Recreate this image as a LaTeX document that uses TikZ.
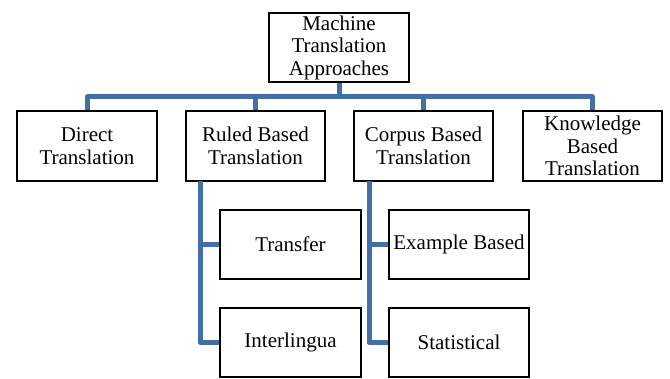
\documentclass[tikz,border=0pt]{standalone}
\usepackage{fontspec}
\setmainfont{Liberation Serif}
\definecolor{conncol}{RGB}{66,111,166}
\begin{document}
\begin{tikzpicture}[x=1pt,y=-1pt,
  box/.style={draw=black,line width=2pt,fill=white,inner sep=0pt,align=center,
    font=\fontsize{21}{22.5}\selectfont},
  conn/.style={draw=conncol,line width=5pt,line join=round}]
\useasboundingbox (0,0) rectangle (670,379);
\node[box,minimum width=140pt,minimum height=69pt] (root) at (339,47.5) {Machine\\Translation\\Approaches};
\node[box,minimum width=140pt,minimum height=70pt] (direct) at (87,146) {Direct\\Translation};
\node[box,minimum width=139pt,minimum height=70pt] (ruled) at (255.5,146) {Ruled Based\\Translation};
\node[box,minimum width=139pt,minimum height=70pt] (corpus) at (423.5,146) {Corpus Based\\Translation};
\node[box,minimum width=139pt,minimum height=70pt] (know) at (592.5,146) {Knowledge\\Based\\Translation};
\node[box,minimum width=141pt,minimum height=69pt] (transfer) at (290.5,244.5) {Transfer};
\node[box,minimum width=141pt,minimum height=69pt] (inter) at (290.5,342.5) {Interlingua};
\node[box,minimum width=140pt,minimum height=69pt] (example) at (459,244.5) {Example Based};
\node[box,minimum width=140pt,minimum height=69pt] (stat) at (459,342.5) {Statistical};
\coordinate (bus) at (339,97);
\coordinate (rv) at (200,181);
\coordinate (cv) at (369,181);
\draw[conn] (root.south) -- (bus);
\draw[conn] (direct.north) |- (bus) -| (know.north);
\draw[conn] (ruled.north) -- (ruled.north |- bus);
\draw[conn] (corpus.north) -- (corpus.north |- bus);
\draw[conn] (rv) |- (inter.west);
\draw[conn] (rv |- transfer.west) -- (transfer.west);
\draw[conn] (cv) |- (stat.west);
\draw[conn] (cv |- example.west) -- (example.west);
\end{tikzpicture}
\end{document}
